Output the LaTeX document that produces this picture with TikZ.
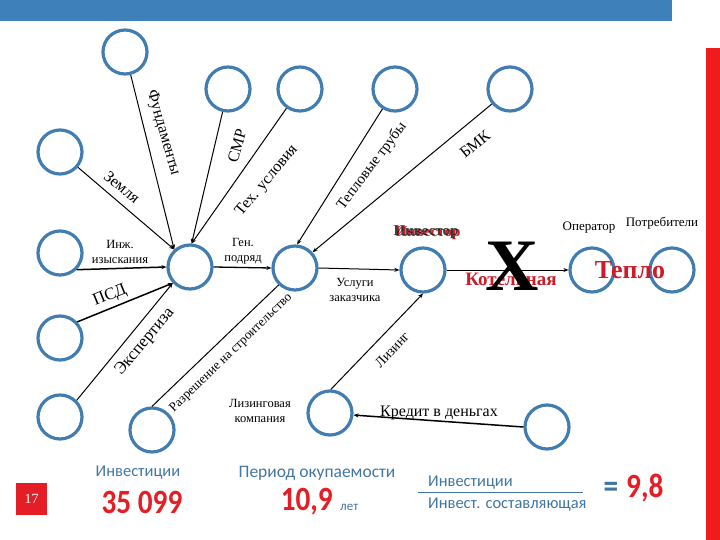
\documentclass[tikz,border=0pt]{standalone}
\usepackage{fontspec}
\setmainfont{Liberation Serif}
\newfontfamily\carl{Carlito}
\newfontfamily\carlc[FakeStretch=0.86]{Carlito}
\usetikzlibrary{arrows.meta}
\definecolor{cblue}{RGB}{66,125,178}
\definecolor{barblue}{RGB}{62,128,186}
\definecolor{barred}{RGB}{240,28,28}
\definecolor{tred}{RGB}{205,28,40}
\definecolor{bred}{RGB}{228,30,36}
\definecolor{sblue}{RGB}{66,118,160}
\begin{document}
\begin{tikzpicture}[x=1pt,y=-1pt,
  circ/.style={circle,draw=cblue,line width=3.2pt,minimum size=44pt,inner sep=0pt},
  conn/.style={line width=1pt},
  arr/.style={-{Stealth[length=5pt,width=4pt]}},
  lbl/.style={font=\fontsize{16}{18}\selectfont,inner sep=0pt},
  mid/.style={font=\fontsize{13}{15}\selectfont,inner sep=0pt},
  sm/.style={font=\fontsize{12.5}{14.5}\selectfont,align=center,inner sep=0pt},
  bt/.style={font=\carl\fontsize{16.5}{18}\selectfont,text=sblue,inner sep=0pt},
  big/.style={font=\carlc\bfseries\fontsize{34}{36}\selectfont,text=bred,inner sep=0pt},
]
\useasboundingbox (0,0) rectangle (720,540);
\fill[barblue] (0,0) rectangle (672,21);
\fill[barred] (706,48) rectangle (720,540);

% circles
\node[circ] (c1) at (125,52) {};
\node[circ] (c2) at (228,89) {};
\node[circ] (c3) at (300,89) {};
\node[circ] (c4) at (395,89) {};
\node[circ] (c5) at (510,89) {};
\node[circ] (c6) at (60,152) {};
\node[circ] (c7) at (60,253) {};
\node[circ] (hub) at (190,267) {};
\node[circ] (gen) at (295,268) {};
\node[circ] (c8) at (60,338) {};
\node[circ] (c9) at (60,417) {};
\node[circ] (c10) at (152,430) {};
\node[circ] (leas) at (330,413) {};
\node[circ] (inv) at (423,270) {};
\node[circ] (oper) at (592,270) {};
\node[circ] (potr) at (672,270) {};
\node[circ] (cred) at (547,427) {};

% connectors
\draw[conn,arr] (c6) -- (hub.132);
\draw[conn,arr] (c1) -- (hub.132);
\draw[conn,arr] (c2) -- (hub.86);
\draw[conn,arr] (c3) -- (hub.86);
\draw[conn,arr,line width=1.5pt] (c7.-45) -- (hub.180);
\draw[conn,arr,line width=1.5pt] (c8.43) -- (hub.223);
\draw[conn,arr] (c9.45) -- (hub.223);
\draw[conn,arr,line width=1.3pt] (hub.0) -- (gen.180);
\draw[conn,arr] (c4) -- (gen.85);
\draw[conn,arr] (c5) -- (gen.42);
\draw[conn] (c10.90) -- (gen.226);
\draw[conn,arr] (gen.0) -- (inv.180);
\draw[conn,arr] (leas.88) -- (inv.-90);
\draw[conn,arr] (inv.0) -- (oper.180);
\draw[conn,arr,line width=1.5pt] (cred.180) -- (leas.-5);

% labels on connectors
\node[lbl,rotate=-74] (tf) at (163,133) {Фундаменты};
\node[lbl,rotate=-39] (tz) at (122,187) {Земля};
\node[lbl,rotate=74] (ts) at (237,146) {СМР};
\node[lbl,rotate=50] (tt) at (267,181) {Тех. условия};
\node[lbl,rotate=53,font=\fontsize{15}{17}\selectfont] (ttr) at (372,166) {Тепловые трубы};
\node[lbl,rotate=39] (tb) at (475,144) {БМК};
\node[sm] (tinz) at (120,252) {Инж.\\изыскания};
\node[sm] (tgen) at (243,251) {Ген.\\подряд};
\node[lbl,rotate=22,font=\fontsize{17}{19}\selectfont] (tp) at (110,296) {ПСД};
\node[lbl,rotate=50,font=\fontsize{17}{19}\selectfont] (te) at (145,342) {Экспертиза};
\node[sm,rotate=44,font=\fontsize{13}{15}\selectfont] (tr) at (231,353) {Разрешение на строительство};
\node[sm] (tu) at (355,290) {Услуги\\заказчика};
\node[mid,rotate=47,font=\fontsize{14}{16}\selectfont] (tl) at (392,350) {Лизинг};
\node[sm] (tlk) at (260,411) {Лизинговая\\компания};
\node[lbl] (tk) at (439,413) {Кредит в деньгах};
\node[mid,text=tred,font=\bfseries\fontsize{15}{17}\selectfont] (tir) at (428,233) {Инвестор};
\node[mid,text=black,opacity=0.75,font=\bfseries\fontsize{15}{17}\selectfont] (tib) at (426,232) {Инвестор};
\node[mid] (to) at (589,228) {Оператор};
\node[mid] (tpo) at (662,223) {Потребители};
\node[inner sep=0pt,text=tred,font=\bfseries\fontsize{19}{21}\selectfont] (tkot) at (511,279) {Котельная};
\node[inner sep=0pt,font=\bfseries\fontsize{74}{74}\selectfont] (tx) at (512,266) {X};
\node[inner sep=0pt,text=tred,font=\bfseries\fontsize{26}{28}\selectfont] (tte) at (630,270) {Тепло};

% bottom
\fill[bred] (16,483) rectangle (47,515);
\node[inner sep=0pt,text=white,font=\fontsize{14}{16}\selectfont] (n17) at (31.5,499) {17};
\node[bt] (bi) at (138,473) {Инвестиции};
\node[big] (b35) at (142,502) {35 099};
\node[bt,font=\carl\fontsize{17.5}{19}\selectfont] (bp) at (317,473) {Период окупаемости};
\node[big,anchor=east] (b10) at (333,502) {10,9};
\node[bt,font=\carl\fontsize{13}{15}\selectfont,anchor=west] (blet) at (340,507) {лет};
\node[bt,anchor=west] (bn) at (428,483) {Инвестиции};
\draw[sblue,line width=0.8pt] (418,492) -- (583,492);
\node[bt,anchor=west] (bd) at (428,505) {Инвест. составляющая};
\node[big,text=sblue] (beq) at (611,490) {=};
\node[big,anchor=west] (b98) at (626,488) {9,8};
\end{tikzpicture}
\end{document}
